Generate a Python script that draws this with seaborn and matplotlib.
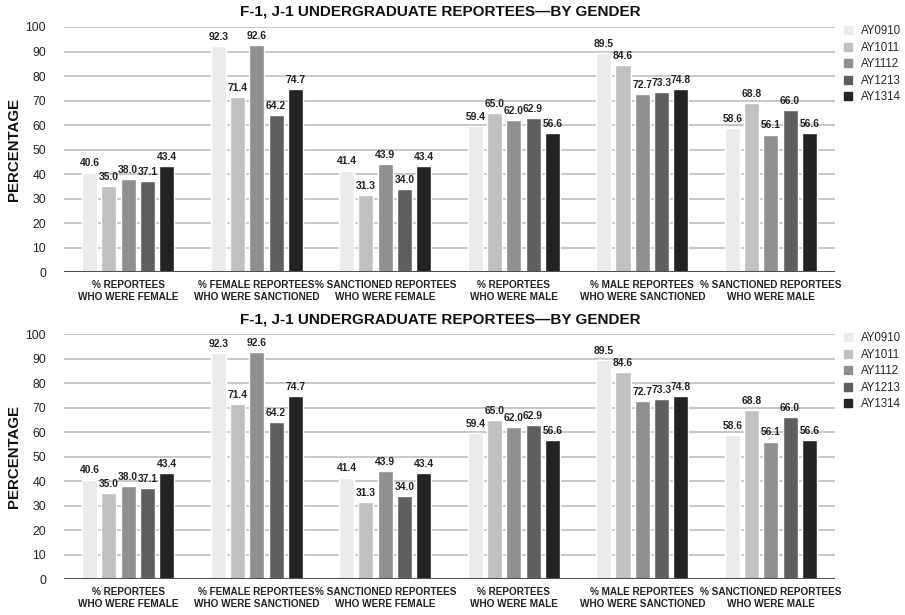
import matplotlib
matplotlib.use("Agg")
import matplotlib.pyplot as plt
import seaborn as sns
import pandas as pd

# Survey categories (x axis) and academic years (hue)
categories = [
    "% REPORTEES\nWHO WERE FEMALE",
    "% FEMALE REPORTEES\nWHO WERE SANCTIONED",
    "% SANCTIONED REPORTEES\nWHO WERE FEMALE",
    "% REPORTEES\nWHO WERE MALE",
    "% MALE REPORTEES\nWHO WERE SANCTIONED",
    "% SANCTIONED REPORTEES\nWHO WERE MALE",
]
years = ["AY0910", "AY1011", "AY1112", "AY1213", "AY1314"]

ay0910 = [40.6, 92.3, 41.4, 59.4, 89.5, 58.6]
ay1011 = [35.0, 71.4, 31.3, 65.0, 84.6, 68.8]
ay1112 = [38.0, 92.6, 43.9, 62.0, 72.7, 56.1]
ay1213 = [37.1, 64.2, 34.0, 62.9, 73.3, 66.0]
ay1314 = [43.4, 74.7, 43.4, 56.6, 74.8, 56.6]

series = dict(zip(years, [ay0910, ay1011, ay1112, ay1213, ay1314]))
palette = ["#ebebeb", "#c0c0c0", "#8f8f8f", "#5f5f5f", "#232323"]

df = pd.DataFrame(
    [(cat, yr, val) for yr, vals in series.items() for cat, val in zip(categories, vals)],
    columns=["category", "year", "value"],
)

sns.set_theme(style="white")
plt.rcParams["font.family"] = ["Liberation Sans", "DejaVu Sans"]

fig = plt.figure(figsize=(9.05, 6.15), dpi=100)
title = "F-1, J-1 UNDERGRADUATE REPORTEES\u2014BY GENDER"

panels = [
    (0.0707, 0.5577, 0.8520, 0.3984, 0.981),
    (0.0707, 0.0585, 0.8520, 0.3984, 0.480),
]

for left, bottom, width, height, title_y in panels:
    ax = fig.add_axes([left, bottom, width, height])
    sns.barplot(
        data=df, x="category", y="value", hue="year", hue_order=years,
        order=categories, palette=palette, width=0.75, gap=0.22,
        saturation=1, ax=ax, legend=False,
    )
    ax.set_ylim(0, 100)
    ax.set_xlim(-0.5, len(categories) - 0.5)
    ax.set_yticks(range(0, 101, 10))
    ax.yaxis.grid(True, color="#c8c8c8", linewidth=1.4)
    ax.set_axisbelow(True)
    ax.axhline(0, color="#505050", linewidth=2.2, zorder=3)
    for s in ax.spines.values():
        s.set_visible(False)
    ax.tick_params(axis="both", length=0)
    ax.tick_params(axis="y", labelsize=8.8, pad=13, labelcolor="#222222")
    ax.tick_params(axis="x", pad=6)
    for lbl in ax.get_xticklabels():
        lbl.set_fontsize(7.2)
        lbl.set_fontweight("bold")
        lbl.set_color("#222222")
        lbl.set_linespacing(1.25)
    ax.set_xlabel("")
    ax.set_ylabel("PERCENTAGE", fontsize=10.8, fontweight="bold", labelpad=3,
                  color="#111111")

    for cont in ax.containers:
        ax.bar_label(cont, fmt="%.1f", padding=3, fontsize=7.4,
                     fontweight="bold", color="#222222", clip_on=False)

    handles = [plt.Rectangle((0, 0), 1, 1, color=c) for c in palette]
    ax.legend(handles, years, loc="upper left", bbox_to_anchor=(1.005, 1.025),
              frameon=False, fontsize=8.3, handlelength=0.7, handleheight=0.7,
              handletextpad=0.8, labelspacing=0.38, borderaxespad=0)

    fig.text(0.487, title_y, title, ha="center", va="center",
             fontsize=11, fontweight="bold", color="#111111")

fig.savefig("out.png", dpi=100)
